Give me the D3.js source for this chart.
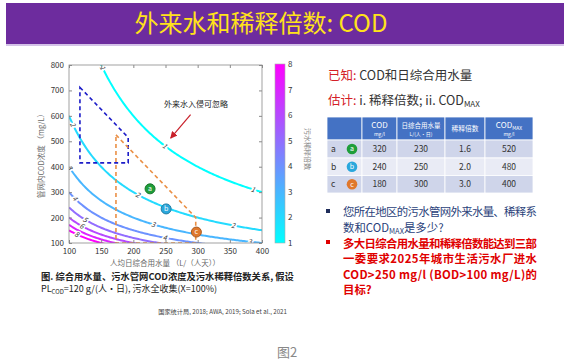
<!DOCTYPE html>
<html>
<head>
<meta charset="utf-8">
<script src="https://cdn.jsdelivr.net/npm/d3@7"></script>
<style>
  body { margin: 0; background: #fff; }
  text { font-family: "Noto Sans CJK SC", "Noto Sans", sans-serif; }
</style>
</head>
<body>
<script>
// chart values
var xTicks = [100, 150, 200, 250, 300, 350, 400];
var yTicks = [100, 200, 300, 400, 500, 600, 700, 800];
var levels = [1, 2, 3, 4, 5, 6, 7, 8];
var plCOD = 120; // g/(人·日)
var qGrid = d3.range(100, 401, 2);
// contour label spots (level, Q)
var labelLevels = [1, 1, 1, 2, 2, 2, 3, 3, 3, 4, 4, 5, 6, 8];
var labelQ = [152, 249, 386, 106, 207, 355, 101, 231, 381, 109, 249, 125, 120, 112];
// dashed regions
var blueQ = [117, 192, 192, 117];
var blueCOD = [712, 515, 415, 415];
var orangeQ = [173, 297, 297, 173];
var orangeCOD = [525, 200, 100, 100];
// scenario points
var pointNames = ["a", "b", "c"];
var pointQ = [226, 251, 298];
var pointCOD = [313, 234, 143];
var pointColors = ["#1f9e3a", "#2aa7dc", "#e0782c"];
// table
var tableCOD = [320, 240, 180];
var tableQ = [230, 250, 300];
var tableDilution = ["1.6", "2.0", "3.0"];
var tableCODmax = [520, 480, 400];
var cbTicks = [1, 2, 3, 4, 5, 6, 7, 8];

var W = 564, H = 363;
var svg = d3.select("body").append("svg")
    .attr("width", W)
    .attr("height", H);

// title band
svg.append("rect").attr("x", 6).attr("y", 3).attr("width", W - 6).attr("height", 41).attr("fill", "#6d2c9e");
svg.append("rect").attr("x", 6).attr("y", 44).attr("width", W - 6).attr("height", 2).attr("fill", "#d4c2e8");
svg.append("text").attr("x", 261).attr("y", 32).attr("text-anchor", "middle")
    .attr("font-size", 24).attr("fill", "#ffe21a")
    .text("外来水和稀释倍数: COD");

// plot area
var pLeft = 69, pRight = 262, pTop = 65, pBottom = 243;
var x = d3.scaleLinear().domain([100, 400]).range([pLeft, pRight]);
var y = d3.scaleLinear().domain([100, 800]).range([pBottom, pTop]);
var color = d3.scaleLinear().domain([1, 8]).range(["#00ffff", "#ff00ff"]);

svg.append("clipPath").attr("id", "clip")
  .append("rect").attr("x", pLeft).attr("y", pTop).attr("width", pRight - pLeft).attr("height", pBottom - pTop);

var plot = svg.append("g").attr("clip-path", "url(#clip)");

function cod(q, n) { return plCOD * 1000 / (q * n); }

var line = d3.line()
    .x(function(d) { return x(d[0]); })
    .y(function(d) { return y(d[1]); });

// contour lines
levels.forEach(function(n) {
  plot.append("path")
    .datum(qGrid.map(function(q) { return [q, cod(q, n)]; }))
    .attr("fill", "none")
    .attr("stroke", color(n))
    .attr("stroke-width", 2)
    .attr("d", line);
});

// contour labels
labelLevels.forEach(function(n, i) {
  var q = labelQ[i];
  var px = x(q), py = y(cod(q, n));
  var dx = x(q + 2) - x(q - 2), dy = y(cod(q + 2, n)) - y(cod(q - 2, n));
  var ang = Math.atan2(dy, dx) * 180 / Math.PI;
  plot.append("text")
    .attr("transform", "translate(" + px + "," + py + ") rotate(" + ang + ")")
    .attr("text-anchor", "middle").attr("dy", "0.35em")
    .attr("font-size", 7).attr("font-style", "italic").attr("fill", "#333")
    .attr("stroke", "#fff").attr("stroke-width", 3).attr("paint-order", "stroke")
    .text(n);
});

// dashed regions
function poly(qs, cs) { return qs.map(function(q, i) { return [q, cs[i]]; }); }
var ringLine = d3.line()
    .x(function(d) { return x(d[0]); })
    .y(function(d) { return y(d[1]); })
    .curve(d3.curveLinearClosed);
plot.append("path")
  .datum(poly(blueQ, blueCOD))
  .attr("fill", "none").attr("stroke", "#1c1cc8").attr("stroke-width", 1.6)
  .attr("stroke-dasharray", "4,3")
  .attr("d", ringLine);
plot.append("path")
  .datum(poly(orangeQ, orangeCOD))
  .attr("fill", "none").attr("stroke", "#ea8f45").attr("stroke-width", 1.6)
  .attr("stroke-dasharray", "4,3")
  .attr("d", ringLine);

// points
pointNames.forEach(function(nm, i) {
  var g = svg.append("g").attr("transform", "translate(" + x(pointQ[i]) + "," + y(pointCOD[i]) + ")");
  g.append("circle").attr("r", 5).attr("fill", pointColors[i]).attr("stroke", d3.color(pointColors[i]).darker(0.8)).attr("stroke-width", 1);
  g.append("text").attr("text-anchor", "middle").attr("dy", "0.33em")
    .attr("font-size", 7).attr("fill", "#fff").text(nm);
});

// annotation
svg.append("defs").append("marker").attr("id", "arr")
    .attr("viewBox", "0 0 10 10").attr("refX", 9).attr("refY", 5)
    .attr("markerWidth", 6).attr("markerHeight", 6).attr("orient", "auto")
  .append("path").attr("d", "M0,0L10,5L0,10z").attr("fill", "#c8202a");
svg.append("line").attr("x1", x(289)).attr("y1", y(605)).attr("x2", x(258)).attr("y2", y(512))
    .attr("stroke", "#c8202a").attr("stroke-width", 1.2).attr("marker-end", "url(#arr)");
svg.append("text").attr("x", 196).attr("y", 107).attr("text-anchor", "middle")
    .attr("font-size", 8).attr("fill", "#222").text("外来水入侵可忽略");

// axes
var axG = svg.append("g");
axG.append("rect").attr("x", pLeft).attr("y", pTop).attr("width", pRight - pLeft).attr("height", pBottom - pTop)
    .attr("fill", "none").attr("stroke", "#8a8a8a").attr("stroke-width", 0.8);
axG.append("g").attr("transform", "translate(0," + pBottom + ")")
    .call(d3.axisBottom(x).tickValues(xTicks).tickSize(-3).tickPadding(5));
axG.append("g").attr("transform", "translate(0," + pTop + ")")
    .call(d3.axisTop(x).tickValues(xTicks).tickSize(-3).tickFormat(""));
axG.append("g").attr("transform", "translate(" + pLeft + ",0)")
    .call(d3.axisLeft(y).tickValues(yTicks).tickSize(-3).tickPadding(5));
axG.append("g").attr("transform", "translate(" + pRight + ",0)")
    .call(d3.axisRight(y).tickValues(yTicks).tickSize(-3).tickFormat(""));
axG.selectAll(".domain").remove();
axG.selectAll(".tick line").attr("stroke", "#8a8a8a");
axG.selectAll(".tick text").attr("font-size", 8).attr("fill", "#333")
    .attr("font-family", "'Liberation Sans', sans-serif");

svg.append("text").attr("x", 165).attr("y", 266).attr("text-anchor", "middle")
    .attr("font-size", 7.5).attr("fill", "#666").text("人均日综合用水量 （L/（人天））");
svg.append("text").attr("transform", "translate(44,154) rotate(-90)").attr("text-anchor", "middle")
    .attr("font-size", 7.5).attr("fill", "#666").text("管网内COD浓度 （mg/L）");

// colorbar
var cbX = 275, cbW = 10;
var cy = d3.scaleLinear().domain([1, 8]).range([243, 64]);
var grad = svg.append("defs").append("linearGradient").attr("id", "cool")
    .attr("x1", 0).attr("y1", 1).attr("x2", 0).attr("y2", 0);
grad.append("stop").attr("offset", 0).attr("stop-color", color(1));
grad.append("stop").attr("offset", 1).attr("stop-color", color(8));
svg.append("rect").attr("x", cbX).attr("y", cy(8)).attr("width", cbW).attr("height", cy(1) - cy(8))
    .attr("fill", "url(#cool)").attr("stroke", "#aaa").attr("stroke-width", 0.6);
var cbAxis = svg.append("g").attr("transform", "translate(" + (cbX + cbW) + ",0)")
    .call(d3.axisRight(cy).tickValues(cbTicks).tickSize(0).tickPadding(3).tickFormat(d3.format("d")));
cbAxis.select(".domain").remove();
cbAxis.selectAll("text").attr("font-size", 8).attr("fill", "#333")
    .attr("font-family", "'Liberation Sans', sans-serif");
svg.append("text").attr("transform", "translate(305,149) rotate(90)").attr("text-anchor", "middle")
    .attr("font-size", 7).attr("fill", "#888").text("污水稀释倍数");

// caption
svg.append("text").attr("x", 41).attr("y", 280).attr("font-size", 9.3).attr("font-weight", "bold").attr("fill", "#222")
    .text("图. 综合用水量、污水管网COD浓度及污水稀释倍数关系, 假设");
var cap2 = svg.append("text").attr("x", 41).attr("y", 292).attr("font-size", 9).attr("fill", "#222");
cap2.append("tspan").text("PL");
cap2.append("tspan").attr("font-size", 6).attr("dy", 2).text("COD");
cap2.append("tspan").attr("dy", -2).text("=120 g/(人·日), 污水全收集(X=100%)");
svg.append("text").attr("x", 287).attr("y", 314).attr("text-anchor", "end")
    .attr("font-size", 6.2).attr("fill", "#444").text("国家统计局, 2018; AWA, 2019; Sola et al., 2021");

// right side text
var t1 = svg.append("text").attr("x", 328).attr("y", 80).attr("font-size", 12.5).attr("fill", "#333");
t1.append("tspan").attr("fill", "#d42027").text("已知: ");
t1.append("tspan").text("COD和日综合用水量");
var t2 = svg.append("text").attr("x", 328).attr("y", 105).attr("font-size", 12.5).attr("fill", "#333");
t2.append("tspan").attr("fill", "#d42027").text("估计: ");
t2.append("tspan").text("i. 稀释倍数; ii. COD");
t2.append("tspan").attr("font-size", 8).attr("dy", 2).text("MAX");

// table
var colX = [327, 362, 397, 445, 485, 533];
var rowY = [117, 140, 158, 175.5, 193];
var tg = svg.append("g");
for (var c = 0; c < 5; c++) {
  tg.append("rect").attr("x", colX[c]).attr("y", rowY[0]).attr("width", colX[c + 1] - colX[c]).attr("height", rowY[1] - rowY[0])
    .attr("fill", "#4472c4").attr("stroke", "#fff").attr("stroke-width", 0.8);
  for (var r = 0; r < 3; r++) {
    tg.append("rect").attr("x", colX[c]).attr("y", rowY[r + 1]).attr("width", colX[c + 1] - colX[c]).attr("height", rowY[r + 2] - rowY[r + 1])
      .attr("fill", r === 1 ? "#e9ebf5" : "#cfd5ea").attr("stroke", "#fff").attr("stroke-width", 0.8);
  }
}
function headerCell(cx, main, sub, unit) {
  var t = tg.append("text").attr("x", cx).attr("y", 128).attr("text-anchor", "middle")
      .attr("font-size", main.length > 4 ? 6.5 : 8).attr("fill", "#fff");
  t.append("tspan").text(main);
  if (sub) t.append("tspan").attr("font-size", 5).attr("dy", 1.5).text(sub);
  if (unit) tg.append("text").attr("x", cx).attr("y", 135.5).attr("text-anchor", "middle")
      .attr("font-size", 5).attr("fill", "#fff").text(unit);
}
headerCell(379.5, "COD", null, "mg/l");
headerCell(421, "日综合用水量", null, "L/(人·日)");
tg.append("text").attr("x", 465).attr("y", 131).attr("text-anchor", "middle")
    .attr("font-size", 6.8).attr("fill", "#fff").text("稀释倍数");
headerCell(509, "COD", "MAX", "mg/l");

var cols = [tableCOD, tableQ, tableDilution, tableCODmax];
pointNames.forEach(function(nm, r) {
  var cyR = (rowY[r + 1] + rowY[r + 2]) / 2;
  tg.append("text").attr("x", 331).attr("y", cyR).attr("dy", "0.35em")
    .attr("font-size", 8.5).attr("fill", "#333").text(nm);
  tg.append("circle").attr("cx", 352).attr("cy", cyR).attr("r", 5.3).attr("fill", pointColors[r]);
  tg.append("text").attr("x", 352).attr("y", cyR).attr("dy", "0.33em").attr("text-anchor", "middle")
    .attr("font-size", 7).attr("fill", "#fff").text(nm);
  cols.forEach(function(arr, c) {
    tg.append("text").attr("x", (colX[c + 1] + colX[c + 2]) / 2).attr("y", cyR).attr("dy", "0.35em")
      .attr("text-anchor", "middle").attr("font-size", 8.5).attr("fill", "#333").text(arr[r]);
  });
});

// bullets
svg.append("rect").attr("x", 326).attr("y", 209).attr("width", 4).attr("height", 4).attr("fill", "#1f2d5a");
svg.append("text").attr("x", 343).attr("y", 216).attr("font-size", 11.4).attr("fill", "#2a3f7a")
    .attr("textLength", 194).attr("lengthAdjust", "spacing")
    .text("您所在地区的污水管网外来水量、稀释系");
var b2 = svg.append("text").attr("x", 343).attr("y", 232).attr("font-size", 11.4).attr("fill", "#2a3f7a");
b2.append("tspan").text("数和COD");
b2.append("tspan").attr("font-size", 7.5).attr("dy", 2).text("MAX");
b2.append("tspan").attr("dy", -2).text("是多少?");

svg.append("rect").attr("x", 326).attr("y", 240).attr("width", 4).attr("height", 4).attr("fill", "#e00000");
var redLines = ["多大日综合用水量和稀释倍数能达到三部", "一委要求2025年城市生活污水厂进水", "COD>250 mg/l (BOD>100 mg/L)的", "目标?"];
redLines.forEach(function(s, i) {
  var t = svg.append("text").attr("x", 343).attr("y", 248 + i * 15.3).attr("font-size", 11.4)
    .attr("font-weight", "bold").attr("fill", "#e00000").text(s);
  if (i < 3) t.attr("textLength", 194).attr("lengthAdjust", "spacing");
});

// figure number
svg.append("text").attr("x", 287).attr("y", 357).attr("text-anchor", "middle")
    .attr("font-size", 13).attr("fill", "#888").text("图2");
</script>
</body>
</html>
